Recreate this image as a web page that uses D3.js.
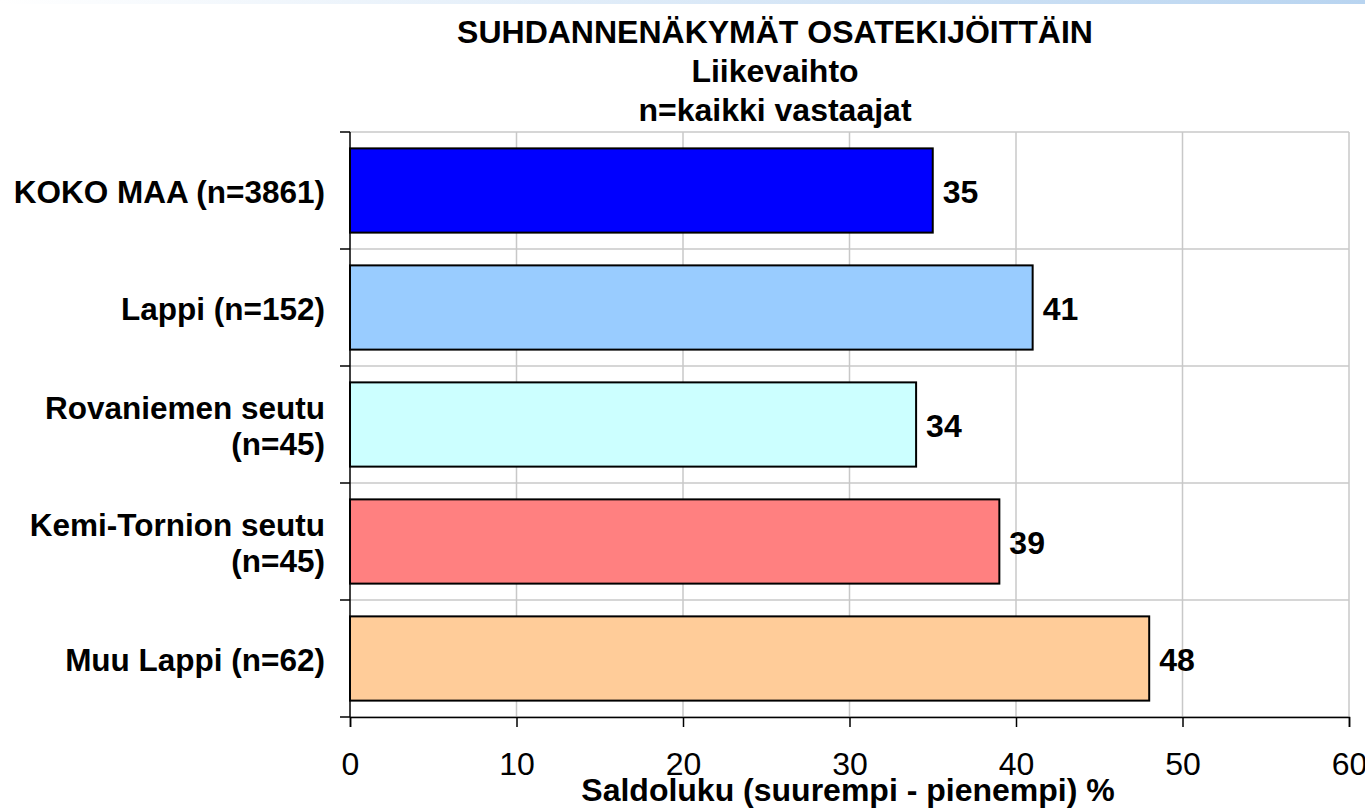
<!DOCTYPE html>
<html>
<head>
<meta charset="utf-8">
<script src="https://cdn.jsdelivr.net/npm/d3@7.9.0/dist/d3.min.js"></script>
<style>
  body { margin: 0; background: #fff; }
  svg { display: block; font-family: "Liberation Sans", Arial, sans-serif; }
</style>
</head>
<body>
<svg id="chart" width="1365" height="809"></svg>
<script>
// chart data
const titleLines = ['SUHDANNENÄKYMÄT OSATEKIJÖITTÄIN', 'Liikevaihto', 'n=kaikki vastaajat'];
const categories = [
  ['KOKO MAA (n=3861)'],
  ['Lappi (n=152)'],
  ['Rovaniemen seutu', '(n=45)'],
  ['Kemi-Tornion seutu', '(n=45)'],
  ['Muu Lappi (n=62)']
];
const values = [35, 41, 34, 39, 48];
const colors = ['#0000ff', '#99ccff', '#ccffff', '#ff8080', '#ffcc99'];
const xTicks = [0, 10, 20, 30, 40, 50, 60];
const xTitle = 'Saldoluku (suurempi - pienempi) %';

const svg = d3.select('#chart');
const plotLeft = 350, plotRight = 1349, plotTop = 132, plotBottom = 717;
const fs = 32;

// faint strip at the top of the slide
const grad = svg.append('defs').append('linearGradient').attr('id', 'topgrad');
grad.append('stop').attr('offset', '0%').attr('stop-color', '#ffffff');
grad.append('stop').attr('offset', '100%').attr('stop-color', '#b8d4f0');
svg.append('rect').attr('x', 0).attr('y', 0).attr('width', 1365).attr('height', 4).attr('fill', 'url(#topgrad)');

const x = d3.scaleLinear().domain([0, 60]).range([plotLeft, plotRight]);
const y = d3.scaleBand()
  .domain(d3.range(categories.length))
  .range([plotTop, plotBottom])
  .paddingInner(0.28)
  .paddingOuter(0.14);

// gridlines
const step = y.step();
svg.append('g').selectAll('line')
  .data(d3.range(categories.length + 1))
  .enter().append('line')
  .attr('x1', plotLeft).attr('x2', plotRight)
  .attr('y1', (i) => plotTop + i * step).attr('y2', (i) => plotTop + i * step)
  .attr('stroke', '#c8c8c8').attr('stroke-width', 1.5);

svg.append('g').selectAll('line')
  .data(xTicks.slice(1))
  .enter().append('line')
  .attr('x1', (d) => x(d)).attr('x2', (d) => x(d))
  .attr('y1', plotTop).attr('y2', plotBottom)
  .attr('stroke', '#c8c8c8').attr('stroke-width', 1.5);

// bars
svg.append('g').selectAll('rect')
  .data(values)
  .enter().append('rect')
  .attr('x', x(0))
  .attr('y', (d, i) => y(i))
  .attr('width', (d) => x(d) - x(0))
  .attr('height', y.bandwidth())
  .attr('fill', (d, i) => colors[i])
  .attr('stroke', '#000')
  .attr('stroke-width', 2);

// value labels
svg.append('g').selectAll('text')
  .data(values)
  .enter().append('text')
  .attr('x', (d) => x(d) + 10)
  .attr('y', (d, i) => y(i) + y.bandwidth() / 2 + 12)
  .attr('font-size', fs).attr('font-weight', 'bold')
  .text((d) => d);

// y axis with ticks at category boundaries
svg.append('line')
  .attr('x1', plotLeft).attr('x2', plotLeft).attr('y1', plotTop).attr('y2', plotBottom)
  .attr('stroke', '#000').attr('stroke-width', 1.5);
svg.append('g').selectAll('line')
  .data(d3.range(categories.length + 1))
  .enter().append('line')
  .attr('x1', plotLeft - 10).attr('x2', plotLeft)
  .attr('y1', (i) => plotTop + i * step).attr('y2', (i) => plotTop + i * step)
  .attr('stroke', '#000').attr('stroke-width', 1.5);

// category labels
const catG = svg.append('g');
categories.forEach((lines, i) => {
  const cy = y(i) + y.bandwidth() / 2;
  const t = catG.append('text')
    .attr('text-anchor', 'end')
    .attr('font-size', 31.5).attr('font-weight', 'bold');
  lines.forEach((s, j) => {
    t.append('tspan')
      .attr('x', 325)
      .attr('y', cy + 12 + (j - (lines.length - 1) / 2) * 36)
      .text(s);
  });
});

// x axis
const xAxis = d3.axisBottom(x).tickValues(xTicks).tickSize(10).tickPadding(25);
const ax = svg.append('g').attr('transform', `translate(0,${plotBottom})`).call(xAxis);
ax.select('.domain').attr('stroke', '#000').attr('stroke-width', 1.5);
ax.selectAll('.tick line').attr('stroke', '#000').attr('stroke-width', 1.5);
ax.selectAll('.tick text')
  .attr('font-size', fs).attr('font-family', '"Liberation Sans", Arial, sans-serif')
  .attr('fill', '#000');

svg.append('text')
  .attr('x', 848).attr('y', 801)
  .attr('text-anchor', 'middle')
  .attr('font-size', fs).attr('font-weight', 'bold')
  .text(xTitle);

// titles
svg.append('g').selectAll('text')
  .data(titleLines)
  .enter().append('text')
  .attr('x', 775)
  .attr('y', (d, i) => 43 + i * 39)
  .attr('text-anchor', 'middle')
  .attr('font-size', fs).attr('font-weight', 'bold')
  .text((d) => d);
</script>
</body>
</html>
